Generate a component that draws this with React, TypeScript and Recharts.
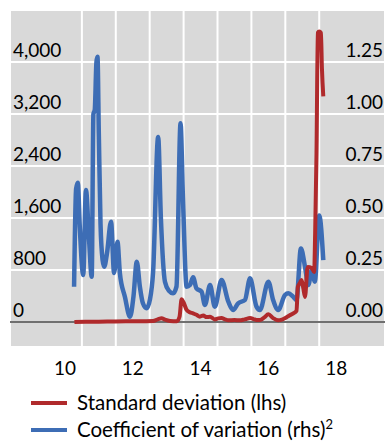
import React from "react";
import { LineChart, Line, XAxis, YAxis, CartesianGrid, ReferenceLine } from "recharts";

// standard deviation (lhs)
const sdYears = [10.28, 10.6, 11.0, 11.4, 11.8, 12.2, 12.6, 12.75, 12.85, 12.95, 13.1, 13.3, 13.38, 13.44, 13.5, 13.59, 13.68, 13.78, 13.88, 13.98, 14.08, 14.18, 14.28, 14.42, 14.52, 14.62, 14.72, 14.82, 15.0, 15.15, 15.3, 15.46, 15.56, 15.65, 15.75, 15.88, 16.0, 16.14, 16.29, 16.4, 16.5, 16.62, 16.73, 16.83, 16.87, 16.93, 16.98, 17.03, 17.08, 17.16, 17.28, 17.35, 17.38, 17.42, 17.46, 17.5, 17.55, 17.58, 17.62];
const sdValues = [0, 5, 5, 8, 10, 10, 15, 45, 57, 35, 15, 10, 80, 348, 300, 185, 150, 134, 110, 82, 100, 75, 80, 40, 55, 60, 40, 25, 30, 25, 40, 60, 45, 30, 30, 70, 118, 60, 25, 35, 60, 100, 130, 170, 540, 600, 646, 520, 385, 846, 830, 770, 1370, 2600, 4450, 4470, 4450, 3900, 3470];

// coefficient of variation (rhs)
const cvYears = [10.27, 10.33, 10.38, 10.44, 10.54, 10.62, 10.71, 10.79, 10.84, 10.88, 10.93, 10.96, 11.0, 11.05, 11.11, 11.16, 11.24, 11.36, 11.45, 11.55, 11.62, 11.77, 11.92, 12.02, 12.12, 12.21, 12.3, 12.41, 12.51, 12.6, 12.75, 12.83, 12.95, 13.07, 13.19, 13.29, 13.41, 13.48, 13.59, 13.69, 13.78, 13.88, 14.03, 14.13, 14.28, 14.42, 14.62, 14.82, 14.96, 15.11, 15.31, 15.46, 15.65, 15.75, 16.0, 16.14, 16.29, 16.49, 16.59, 16.73, 16.83, 16.96, 17.08, 17.18, 17.28, 17.37, 17.5, 17.62];
const cvValues = [0.17, 0.64, 0.67, 0.45, 0.226, 0.635, 0.4, 0.218, 1.0, 1.02, 1.25, 1.275, 0.9, 0.47, 0.3, 0.266, 0.33, 0.482, 0.236, 0.386, 0.236, 0.12, 0.025, 0.12, 0.29, 0.17, 0.09, 0.066, 0.11, 0.24, 0.89, 0.5, 0.194, 0.15, 0.138, 0.17, 0.955, 0.6, 0.17, 0.178, 0.215, 0.162, 0.146, 0.082, 0.178, 0.074, 0.202, 0.098, 0.058, 0.09, 0.106, 0.21, 0.074, 0.058, 0.194, 0.106, 0.058, 0.13, 0.138, 0.122, 0.106, 0.354, 0.266, 0.178, 0.25, 0.194, 0.512, 0.298];

const leftTicks = [0, 800, 1600, 2400, 3200, 4000];
const rightTicks = [0, 0.25, 0.5, 0.75, 1, 1.25];
const gridTicks = [10.5, 11.5, 12.5, 13.5, 14.5, 15.5, 16.5, 17.5];
const labelTicks = [10, 12, 14, 16, 18];

const sdData = sdYears.map((x, i) => ({ x, sd: sdValues[i] }));
const cvData = cvYears.map((x, i) => ({ x, cv: cvValues[i] }));

const FONT = "Lato, 'Noto Sans', sans-serif";
const RED = "#B02A2C";
const BLUE = "#3D6DB5";

const LeftTick = (props: any) => (
  <text x={props.x} y={props.y - 5} fontSize={19} fontFamily={FONT} fill="#000" textAnchor="start">
    {props.payload.value.toLocaleString("en-US")}
  </text>
);

const RightTick = (props: any) => (
  <text x={props.x - 2} y={props.y - 5} fontSize={19} fontFamily={FONT} fill="#000" textAnchor="end">
    {props.payload.value.toFixed(2)}
  </text>
);

const GridMark = (props: any) => (
  <line x1={props.x} x2={props.x} y1={props.y - 14} y2={props.y} stroke="#000" strokeWidth={1.5} />
);

const BottomLabel = (props: any) => (
  <text x={props.x} y={props.y + 28} fontSize={19} fontFamily={FONT} fill="#000" textAnchor="middle">
    {props.payload.value}
  </text>
);

export default function App() {
  return (
    <div style={{ position: "absolute", left: 0, top: 0, width: 385, height: 441, background: "#fff" }}>
      <LineChart width={385} height={441} margin={{ top: 10, right: 0, left: 10, bottom: 59 }}>
        <CartesianGrid xAxisId="g" yAxisId="l" fill="#D9D9D9" stroke="#fff" strokeWidth={2} />
        <XAxis
          xAxisId="g"
          type="number"
          dataKey="x"
          domain={[8.38, 19.44]}
          ticks={gridTicks}
          height={0}
          axisLine={false}
          tickLine={false}
          tickSize={0}
          tickMargin={0}
          tick={<GridMark />}
          allowDataOverflow
        />
        <XAxis
          xAxisId="lab"
          type="number"
          dataKey="x"
          domain={[8.38, 19.44]}
          ticks={labelTicks}
          height={35}
          axisLine={false}
          tickLine={false}
          tickSize={0}
          tickMargin={0}
          tick={<BottomLabel />}
          allowDataOverflow
        />
        <YAxis
          yAxisId="l"
          type="number"
          domain={[-385, 4800]}
          ticks={leftTicks}
          mirror
          axisLine={false}
          tickLine={false}
          tickSize={0}
          tickMargin={3}
          tick={<LeftTick />}
          allowDataOverflow
        />
        <YAxis
          yAxisId="r"
          orientation="right"
          type="number"
          domain={[-0.12, 1.5]}
          ticks={rightTicks}
          mirror
          axisLine={false}
          tickLine={false}
          tickSize={0}
          tickMargin={0}
          tick={<RightTick />}
          allowDataOverflow
        />
        <ReferenceLine xAxisId="g" yAxisId="l" y={0} stroke="#404040" strokeWidth={1.5} />
        <Line
          xAxisId="g"
          yAxisId="r"
          data={cvData}
          dataKey="cv"
          type="monotone"
          stroke={BLUE}
          strokeWidth={4.5}
          dot={false}
          isAnimationActive={false}
        />
        <Line
          xAxisId="g"
          yAxisId="l"
          data={sdData}
          dataKey="sd"
          type="monotone"
          stroke={RED}
          strokeWidth={4}
          dot={false}
          isAnimationActive={false}
        />
      </LineChart>
      <div style={{ position: "absolute", left: 31, top: 389, fontFamily: FONT, fontSize: 20.5, color: "#000", lineHeight: "27px" }}>
        <div style={{ display: "flex", alignItems: "center" }}>
          <span style={{ display: "inline-block", width: 36, height: 4, background: RED, marginRight: 10 }} />
          <span>Standard deviation (lhs)</span>
        </div>
        <div style={{ display: "flex", alignItems: "center" }}>
          <span style={{ display: "inline-block", width: 36, height: 4, background: BLUE, marginRight: 10 }} />
          <span>
            Coefficient of variation (rhs)<sup style={{ fontSize: 13, verticalAlign: "top", lineHeight: "16px" }}>2</sup>
          </span>
        </div>
      </div>
    </div>
  );
}
